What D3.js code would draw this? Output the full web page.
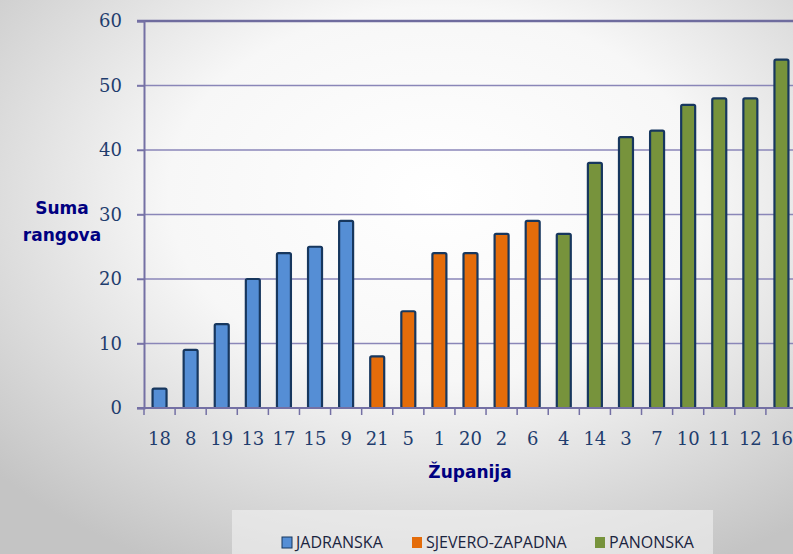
<!DOCTYPE html>
<html>
<head>
<meta charset="utf-8">
<script src="https://cdn.jsdelivr.net/npm/d3@7"></script>
<style>
  body { margin: 0; }
  svg { display: block; }
</style>
</head>
<body>
<svg id="chart" width="793" height="554"></svg>
<script>
// data
var zupanije = ["18", "8", "19", "13", "17", "15", "9", "21", "5", "1", "20", "2", "6", "4", "14", "3", "7", "10", "11", "12", "16"]
var sume = [3, 9, 13, 20, 24, 25, 29, 8, 15, 24, 24, 27, 29, 27, 38, 42, 43, 47, 48, 48, 54]
var regije = ["JADRANSKA", "JADRANSKA", "JADRANSKA", "JADRANSKA", "JADRANSKA", "JADRANSKA", "JADRANSKA",
  "SJEVERO-ZAPADNA", "SJEVERO-ZAPADNA", "SJEVERO-ZAPADNA", "SJEVERO-ZAPADNA", "SJEVERO-ZAPADNA", "SJEVERO-ZAPADNA",
  "PANONSKA", "PANONSKA", "PANONSKA", "PANONSKA", "PANONSKA", "PANONSKA", "PANONSKA", "PANONSKA"]
var regijeNazivi = ["JADRANSKA", "SJEVERO-ZAPADNA", "PANONSKA"]
var yTicks = [0, 10, 20, 30, 40, 50, 60]

var svg = d3.select("#chart")
var W = 793, H = 554
var pLeft = 144, pRight = 797, pTop = 21, pBottom = 408

// background gradient
var defs = svg.append("defs")
var grad = defs.append("radialGradient").attr("id", "bg")
  .attr("cx", "55%").attr("cy", "35%").attr("r", "75%")
grad.append("stop").attr("offset", "0%").attr("stop-color", "#ffffff")
grad.append("stop").attr("offset", "45%").attr("stop-color", "#f7f7f7")
grad.append("stop").attr("offset", "100%").attr("stop-color", "#c4c4c4")
svg.append("rect").attr("width", W).attr("height", H).attr("fill", "url(#bg)")

// legend panel
svg.append("rect").attr("x", 232).attr("y", 510).attr("width", 481).attr("height", 44)
  .attr("fill", "#f2f2f2").attr("opacity", 0.6)

var x = d3.scaleBand().domain(zupanije).range([pLeft, pRight]).paddingInner(0.55).paddingOuter(0.275)
var y = d3.scaleLinear().domain([0, 60]).range([pBottom, pTop])
var boje = d3.scaleOrdinal().domain(regijeNazivi).range(["#558ed5", "#e46c0a", "#77933c"])

// gridlines
svg.append("g").selectAll("line").data(yTicks.filter(function(d){ return d > 0 && d < 60 }))
  .enter().append("line")
  .attr("x1", pLeft - 7).attr("x2", pRight)
  .attr("y1", function(d){ return y(d) }).attr("y2", function(d){ return y(d) })
  .attr("stroke", "#8a86b8").attr("stroke-width", 1.5)

// top frame line
svg.append("line").attr("x1", pLeft - 7).attr("x2", pRight).attr("y1", y(60)).attr("y2", y(60))
  .attr("stroke", "#6f6c9e").attr("stroke-width", 2.5)

// y axis
var yAxis = svg.append("g").attr("transform", "translate(" + pLeft + ",0)")
  .call(d3.axisLeft(y).tickValues(yTicks).tickSize(7).tickPadding(15))
yAxis.select(".domain").attr("stroke", "#7470a4").attr("stroke-width", 2)
yAxis.selectAll(".tick line").attr("stroke", "#7470a4").attr("stroke-width", 1.5)
yAxis.selectAll("text").attr("fill", "#1f3d6e").style("font-family", "'DejaVu Serif', serif")
  .style("font-size", "18px")

// bars
svg.append("g").selectAll("rect").data(zupanije).enter().append("rect")
  .attr("x", function(d){ return x(d) })
  .attr("y", function(d, i){ return y(sume[i]) })
  .attr("width", x.bandwidth())
  .attr("height", function(d, i){ return pBottom - y(sume[i]) })
  .attr("rx", 1.5)
  .attr("fill", function(d, i){ return boje(regije[i]) })
  .attr("stroke", "#17375e").attr("stroke-width", 2.2)

// x axis
var xTicks = d3.range(zupanije.length + 1).map(function(i){ return pLeft + i * x.step() })
var xAxis = svg.append("g")
xAxis.append("line").attr("x1", pLeft - 7).attr("x2", pRight).attr("y1", pBottom).attr("y2", pBottom)
  .attr("stroke", "#7470a4").attr("stroke-width", 2)
xAxis.selectAll(".tk").data(xTicks).enter().append("line").attr("class", "tk")
  .attr("x1", function(d){ return d }).attr("x2", function(d){ return d })
  .attr("y1", pBottom).attr("y2", pBottom + 7)
  .attr("stroke", "#7470a4").attr("stroke-width", 1.5)
xAxis.selectAll("text").data(zupanije).enter().append("text")
  .attr("x", function(d){ return x(d) + x.bandwidth() / 2 })
  .attr("y", 445)
  .attr("text-anchor", "middle")
  .attr("fill", "#1f3d6e")
  .style("font-family", "'DejaVu Serif', serif").style("font-size", "18px")
  .text(function(d){ return d })

// axis titles
function styled(sel) {
  return sel.attr("fill", "#000080").attr("text-anchor", "middle")
    .style("font-family", "'DejaVu Sans', Verdana, sans-serif")
    .style("font-size", "17px").style("font-weight", "bold")
}
styled(svg.append("text").attr("x", 470).attr("y", 478).text("Županija"))
styled(svg.append("text").attr("x", 62).attr("y", 214).text("Suma"))
styled(svg.append("text").attr("x", 62).attr("y", 241).text("rangova"))

// legend
var legX = [282, 412, 595]
var leg = svg.append("g").selectAll("g").data(regijeNazivi).enter().append("g")
  .attr("transform", function(d, i){ return "translate(" + legX[i] + ",534)" })
leg.append("rect").attr("width", 10).attr("height", 11).attr("y", 3)
  .attr("fill", function(d){ return boje(d) })
  .attr("stroke", function(d, i){ return i == 0 ? "#17375e" : "none" }).attr("stroke-width", 1)
leg.append("text").attr("x", 14).attr("y", 14)
  .attr("fill", "#1a2440")
  .style("font-family", "'Open Sans', sans-serif").style("font-size", "16px")
  .text(function(d){ return d })
</script>
</body>
</html>
